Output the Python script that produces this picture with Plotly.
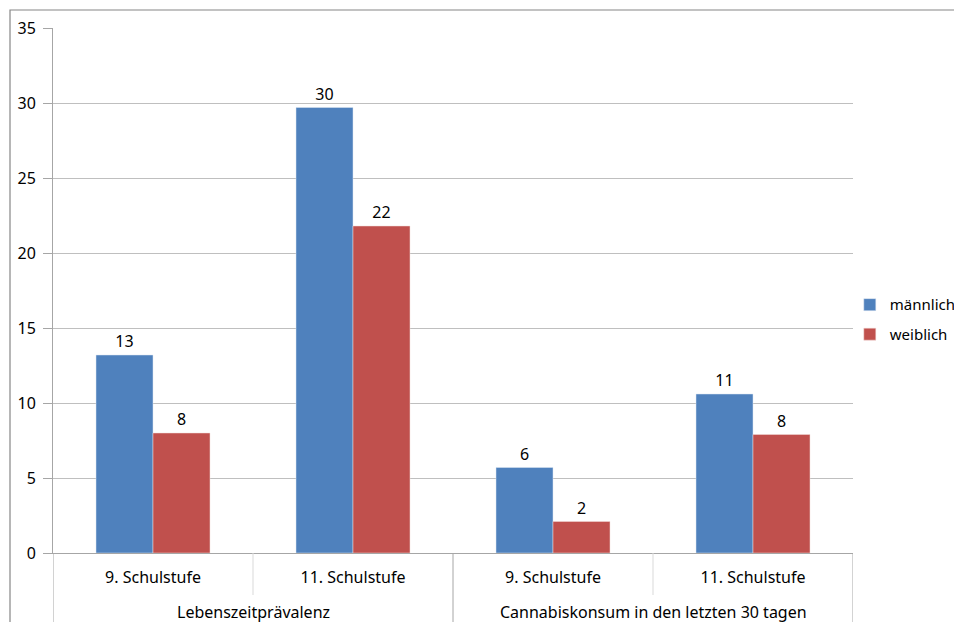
import plotly.graph_objects as go

groups = ["Lebenszeitprävalenz", "Lebenszeitprävalenz",
          "Cannabiskonsum in den letzten 30 tagen", "Cannabiskonsum in den letzten 30 tagen"]
stufen = ["9. Schulstufe", "11. Schulstufe", "9. Schulstufe", "11. Schulstufe"]
maennlich = [13.2, 29.7, 5.7, 10.6]
weiblich = [8.0, 21.8, 2.1, 7.9]
yticks = [0, 5, 10, 15, 20, 25, 30, 35]

FONT = "Noto Sans"
FS = 16
keys = [f"{g} / {s}" for g, s in zip(groups, stufen)]

fig = go.Figure()
fig.add_trace(go.Bar(x=keys, y=maennlich, name="männlich", legendgroup="m",
                     marker=dict(color="#4F81BD", line=dict(color="#DCE6F2", width=0.5)),
                     texttemplate="%{y:.0f}", textposition="outside",
                     textfont=dict(size=FS, color="black", family=FONT), cliponaxis=False))
fig.add_trace(go.Bar(x=keys, y=weiblich, name="weiblich", legendgroup="w",
                     marker=dict(color="#C0504D", line=dict(color="#F2DCDB", width=0.5)),
                     texttemplate="%{y:.0f}", textposition="outside",
                     textfont=dict(size=FS, color="black", family=FONT), cliponaxis=False))

# group labels and dividers derived from the group list
annotations = []
shapes = []
unique_groups = []
for g in groups:
    if g not in unique_groups:
        unique_groups.append(g)
for g in unique_groups:
    idx = [i for i, gg in enumerate(groups) if gg == g]
    annotations.append(dict(text=g, x=(idx[0] + idx[-1]) / 2, xref="x",
                            y=-59 / 525, yref="paper", yanchor="middle",
                            showarrow=False, font=dict(size=FS, family=FONT, color="black")))
    shapes.append(dict(type="line", xref="x", yref="paper", x0=idx[0] - 0.5, x1=idx[0] - 0.5,
                       y0=0, y1=-1, line=dict(color="#A6A6A6", width=1)))
    for i in idx[1:]:
        shapes.append(dict(type="line", xref="x", yref="paper", x0=i - 0.5, x1=i - 0.5,
                           y0=0, y1=-42 / 525, line=dict(color="#D9D9D9", width=1)))
shapes.append(dict(type="line", xref="x", yref="paper", x0=len(keys) - 0.5, x1=len(keys) - 0.5,
                   y0=0, y1=-1, line=dict(color="#A6A6A6", width=1)))
shapes.append(dict(type="rect", xref="paper", yref="paper", x0=-43 / 800, y0=-1,
                   x1=2, y1=1 + 18 / 525, line=dict(color="#868686", width=1.2), layer="below"))

fig.update_layout(
    width=954, height=614,
    margin=dict(l=45, r=109, t=20, b=69, autoexpand=False),
    paper_bgcolor="white", plot_bgcolor="white",
    barmode="group", bargap=0.43, bargroupgap=0,
    font=dict(family=FONT, size=FS, color="black"),
    showlegend=True,
    legend=dict(x=0.996, y=0.445, xanchor="left", yanchor="middle",
                font=dict(size=15, family=FONT), tracegroupgap=7, traceorder="grouped",
                itemwidth=30, bgcolor="rgba(0,0,0,0)"),
    xaxis=dict(type="category", tickvals=keys, ticktext=stufen, range=[-0.5, len(keys) - 0.5],
               showline=True, linecolor="#A6A6A6", linewidth=1, automargin=False,
               ticks="", ticklabelstandoff=10,
               tickfont=dict(size=FS, family=FONT), showgrid=False),
    yaxis=dict(range=[0, 35], tickvals=yticks, showgrid=True, gridcolor="#BFBFBF",
               gridwidth=1, showline=True, linecolor="#A6A6A6", linewidth=1,
               ticks="outside", ticklen=9, tickcolor="#A6A6A6", automargin=False,
               ticklabelstandoff=4,
               tickfont=dict(size=FS, family=FONT), zeroline=False),
    shapes=shapes,
    annotations=annotations,
)
fig.write_html("out.html")
